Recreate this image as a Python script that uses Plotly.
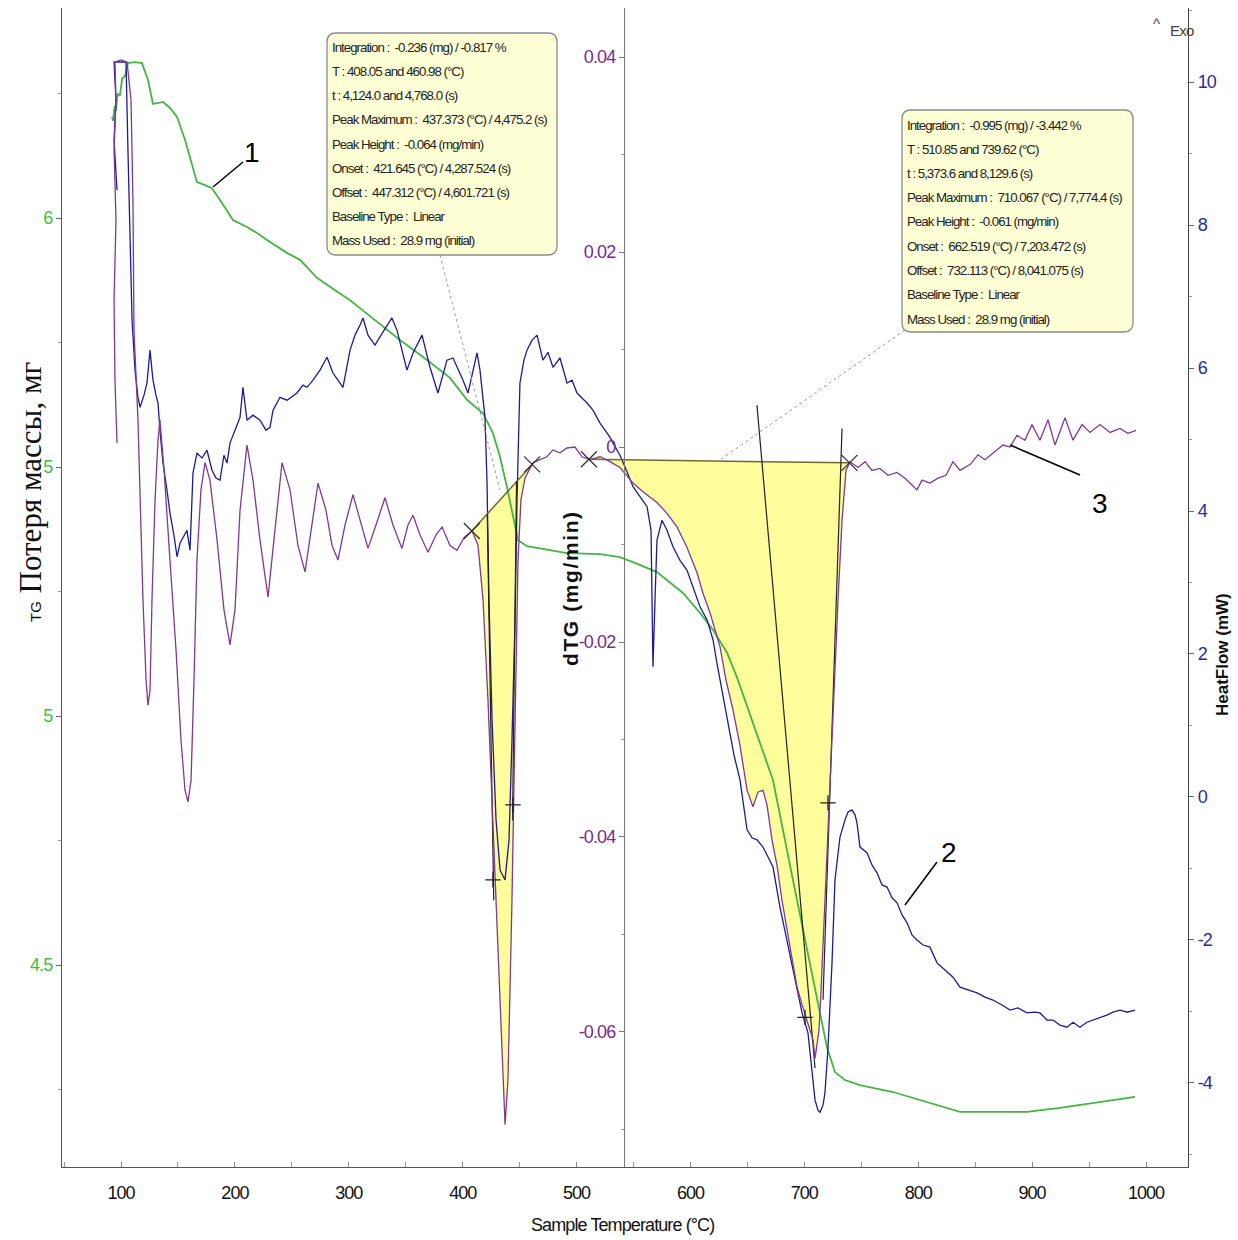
import numpy as np
import plotly.graph_objects as go

# ---------------- data ----------------
# TG curve (green) : sample temperature (°C) / mass (mg)
tg_temp = [92.1, 93.0, 94.5, 95.5, 97.0, 99.0, 101.0, 103.5, 106.1, 112.3, 118.4, 123.7, 128.1,
           132.5, 136.9, 143.0, 149.2, 156.2, 162.3, 166.7, 173.8, 179.9, 188.7, 198.3, 210.6,
           219.4, 228.2, 245.7, 257.2, 272.1, 287.9, 301.1, 318.6, 331.8, 345.0, 368.7, 388.9,
           403.8, 417.8, 426.6, 432.8, 438.9, 444.2, 448.6, 456.5, 491.6, 520.6, 538.1, 549.5,
           570.6, 593.4, 608.4, 619.8, 632.1, 640.8, 656.7, 672.5, 690.0, 702.3, 713.7, 719.9,
           726.9, 735.7, 748.8, 777.8, 810.3, 836.7, 871.8, 895.5, 924.4, 959.6, 990.3]
tg_mass = [6.203, 6.195, 6.225, 6.215, 6.250, 6.245, 6.280, 6.285, 6.311, 6.313, 6.311, 6.277, 6.229,
           6.231, 6.233, 6.221, 6.203, 6.157, 6.106, 6.072, 6.066, 6.060, 6.030, 5.996, 5.982,
           5.970, 5.956, 5.930, 5.916, 5.880, 5.855, 5.835, 5.803, 5.779, 5.755, 5.715, 5.679,
           5.635, 5.608, 5.568, 5.520, 5.460, 5.400, 5.353, 5.341, 5.327, 5.325, 5.319, 5.309,
           5.289, 5.247, 5.207, 5.173, 5.127, 5.078, 4.976, 4.871, 4.671, 4.536, 4.404, 4.335,
           4.285, 4.269, 4.259, 4.245, 4.223, 4.205, 4.205, 4.205, 4.213, 4.225, 4.235]

# dTG curve (purple) : temperature (°C) / rate (mg/min)
dtg_temp = [96.5, 94.7, 93.9, 95.6, 93.9, 95.6, 94.7, 100.0, 105.3, 108.8, 110.5, 111.4, 114.9,
            116.7, 119.3, 122.0, 123.7, 125.5, 127.2, 129.9, 132.5, 134.2, 137.8, 143.0, 148.3,
            152.7, 156.2, 158.8, 161.5, 164.1, 166.7, 170.2, 173.8, 178.1, 184.3, 190.4, 195.7,
            200.1, 204.5, 210.6, 215.9, 222.0, 229.1, 234.3, 241.4, 248.4, 255.4, 261.6, 266.8,
            273.0, 280.0, 285.3, 290.5, 296.7, 303.7, 309.9, 316.9, 323.9, 331.8, 338.8, 346.7,
            352.0, 356.4, 362.5, 369.6, 376.6, 381.9, 388.9, 395.0, 401.2, 408.2, 413.5, 417.9,
            422.2, 425.8, 429.3, 432.8, 435.4, 437.2, 439.8, 441.6, 443.3, 445.1, 446.8, 448.6,
            451.2, 454.7, 458.2, 461.8, 467.9, 474.0, 479.3, 485.5, 491.6, 498.6, 504.8, 511.8,
            520.6, 529.4, 538.1, 549.6, 558.3, 570.6, 579.4, 588.2, 597.0, 605.8, 611.0, 617.2,
            626.0, 631.2, 637.4, 643.5, 649.7, 654.9, 659.3, 663.7, 667.2, 671.6, 676.0, 680.4,
            684.8, 689.2, 693.6, 698.0, 702.4, 705.0, 707.6, 709.4, 711.2, 712.9, 714.7, 717.3,
            719.9, 722.5, 726.0, 729.6, 733.1, 736.6, 740.1, 747.2, 753.3, 759.4, 766.4, 773.5,
            781.4, 788.4, 794.5, 798.9, 803.3, 810.3, 817.4, 824.4, 830.5, 836.7, 845.5, 852.5,
            858.6, 867.4, 874.4, 880.6, 886.7, 893.7, 899.9, 906.9, 914.0, 920.1, 928.9, 935.9,
            943.8, 950.8, 959.6, 968.4, 977.2, 984.2, 991.2]
dtg_rate = [0.0004, 0.0069, 0.0151, 0.0233, 0.0305, 0.0356, 0.0395, 0.0397, 0.0395, 0.0356, 0.0253, 0.0120, 0.0028,
            -0.0054, -0.0157, -0.0239, -0.0265, -0.0249, -0.0157, -0.0054, 0.0007, 0.0028, -0.0024, -0.0116, -0.0208,
            -0.0301, -0.0352, -0.0364, -0.0342, -0.0239, -0.0116, -0.0044, -0.0016, -0.0034, -0.0095, -0.0167, -0.0203,
            -0.0167, -0.0065, 0.0002, -0.0034, -0.0095, -0.0154, -0.0095, -0.0016, -0.0044, -0.0101, -0.0128, -0.0085,
            -0.0037, -0.0065, -0.0101, -0.0116, -0.0080, -0.0049, -0.0075, -0.0104, -0.0080, -0.0052, -0.0080, -0.0104,
            -0.0080, -0.0070, -0.0090, -0.0108, -0.0090, -0.0082, -0.0101, -0.0106, -0.0093, -0.0086, -0.0101, -0.0157,
            -0.0259, -0.0362, -0.0465, -0.0567, -0.0649, -0.0695, -0.0649, -0.0567, -0.0465, -0.0342, -0.0208, -0.0116,
            -0.0054, -0.0032, -0.0024, -0.0016, -0.0013, -0.0010, -0.0003, -0.0006, -0.0001, 0.0000, -0.0010, -0.0013,
            -0.0010, -0.0015, -0.0021, -0.0037, -0.0046, -0.0057, -0.0068, -0.0082, -0.0103, -0.0129, -0.0150, -0.0170,
            -0.0205, -0.0239, -0.0270, -0.0306, -0.0352, -0.0369, -0.0354, -0.0352, -0.0367, -0.0403, -0.0429, -0.0465,
            -0.0495, -0.0526, -0.0554, -0.0572, -0.0588, -0.0598, -0.0608, -0.0627, -0.0613, -0.0598, -0.0557, -0.0485,
            -0.0424, -0.0352, -0.0259, -0.0157, -0.0075, -0.0024, -0.0015, -0.0021, -0.0015, -0.0024, -0.0022, -0.0029,
            -0.0026, -0.0032, -0.0039, -0.0044, -0.0034, -0.0037, -0.0032, -0.0029, -0.0015, -0.0024, -0.0018, -0.0008,
            -0.0013, -0.0005, 0.0002, 0.0000, 0.0012, 0.0007, 0.0023, 0.0007, 0.0028, 0.0002, 0.0030, 0.0007,
            0.0023, 0.0015, 0.0023, 0.0015, 0.0019, 0.0014, 0.0017]

# HeatFlow curve (navy) : temperature (°C) / heat flow (mW)
hf_temp = [96.5, 93.9, 95.6, 93.9, 99.1, 104.4, 106.1, 107.9, 109.7, 112.3, 114.9, 116.7, 120.2,
           122.8, 125.5, 127.2, 128.1, 130.7, 132.5, 134.2, 136.9, 140.4, 143.0, 146.5, 149.2,
           151.8, 155.3, 157.9, 160.6, 163.2, 166.7, 171.1, 175.5, 179.9, 183.4, 186.9, 190.4,
           193.1, 195.7, 200.1, 204.5, 207.1, 210.6, 215.9, 222.0, 227.3, 230.8, 233.5, 239.6,
           245.8, 254.5, 259.8, 263.3, 268.6, 274.7, 280.9, 286.1, 290.5, 294.9, 301.1, 305.5,
           309.9, 312.5, 316.9, 323.0, 328.3, 333.6, 337.9, 342.3, 345.0, 351.1, 356.4, 364.3,
           371.3, 378.3, 386.2, 391.5, 400.3, 404.7, 412.6, 415.2, 419.6, 421.4, 423.1, 425.8,
           429.3, 432.8, 437.2, 440.7, 443.3, 446.0, 447.7, 450.3, 453.8, 456.5, 460.9, 465.3,
           470.5, 474.9, 479.3, 485.5, 491.6, 496.0, 500.4, 509.2, 514.4, 520.6, 525.0, 529.4,
           533.8, 538.1, 544.3, 549.6, 555.7, 561.9, 565.4, 567.1, 568.9, 570.6, 575.0, 579.4,
           584.7, 590.8, 597.0, 602.2, 608.4, 614.5, 619.8, 623.3, 627.7, 633.0, 638.2, 643.5,
           649.7, 654.1, 658.5, 663.7, 668.1, 672.5, 678.6, 684.8, 689.2, 693.6, 698.0, 703.2,
           706.7, 709.4, 712.0, 713.8, 716.4, 718.1, 720.8, 724.3, 726.9, 731.3, 735.7, 738.4,
           741.8, 744.5, 746.2, 748.9, 755.0, 759.4, 763.8, 768.2, 772.6, 777.0, 781.4, 785.8,
           790.2, 794.5, 798.9, 804.2, 810.3, 816.5, 823.5, 830.5, 836.7, 843.7, 851.6, 858.6,
           865.6, 873.6, 880.6, 887.6, 895.5, 902.5, 906.9, 913.1, 918.3, 924.5, 930.6, 935.9,
           942.0, 948.2, 953.5, 959.6, 965.7, 971.0, 977.2, 983.4, 990.3]
hf_flow = [8.49, 9.19, 9.75, 10.28, 10.28, 10.28, 9.05, 7.65, 6.67, 5.97, 5.59, 5.45, 5.62,
           5.79, 6.25, 5.97, 5.83, 5.62, 5.51, 5.13, 4.67, 4.29, 3.97, 3.66, 3.36,
           3.55, 3.66, 3.73, 3.45, 4.53, 4.81, 4.74, 4.85, 4.57, 4.46, 4.43, 4.78,
           4.67, 4.95, 5.13, 5.31, 5.73, 5.27, 5.34, 5.27, 5.13, 5.17, 5.41, 5.59,
           5.55, 5.65, 5.76, 5.73, 5.83, 5.97, 6.15, 5.93, 5.83, 5.73, 6.25, 6.46,
           6.60, 6.70, 6.46, 6.32, 6.46, 6.60, 6.70, 6.53, 6.35, 5.97, 6.21, 6.46,
           6.01, 5.65, 6.11, 6.14, 5.83, 5.65, 6.21, 5.97, 5.31, 4.39, 2.76, 1.08,
           -0.32, -1.02, -1.16, -0.60, 0.80, 2.48, 4.15, 5.79, 6.11, 6.25, 6.39, 6.46,
           6.11, 6.22, 6.01, 6.14, 5.79, 5.83, 5.65, 5.51, 5.41, 5.23, 5.13, 5.03,
           4.90, 4.78, 4.55, 4.34, 4.20, 4.06, 3.73, 1.82, 2.76, 3.59, 3.87, 3.73,
           3.50, 3.31, 3.17, 2.94, 2.66, 2.48, 2.20, 1.87, 1.50, 1.08, 0.59, 0.24,
           -0.46, -0.57, -0.60, -0.70, -0.85, -0.98, -1.54, -2.00, -2.35, -2.66, -3.02, -3.30,
           -3.82, -4.24, -4.38, -4.41, -4.31, -4.14, -3.50, -2.32, -1.16, -0.56, -0.32, -0.21,
           -0.18, -0.25, -0.36, -0.70, -0.78, -0.95, -1.06, -1.23, -1.26, -1.41, -1.48, -1.65,
           -1.76, -1.93, -2.00, -2.07, -2.10, -2.32, -2.42, -2.52, -2.66, -2.70, -2.74, -2.80,
           -2.84, -2.91, -2.98, -2.95, -3.02, -3.01, -3.02, -3.12, -3.12, -3.19, -3.22, -3.15,
           -3.22, -3.15, -3.12, -3.08, -3.05, -3.01, -2.98, -3.01, -2.98]

# integration limits (°C) from the analysis boxes
peak_limits = [(408.05, 460.98), (510.85, 739.62)]
# inflection points marked with "+"
inflect_temp = [426.6, 444.2, 700.6, 720.8]
inflect_rate = [-0.0444, -0.0367, -0.0585, -0.0365]
# tangent lines (start/end in °C and mg/min)
tangent_temp = [(421.6, 427.3), (447.3, 443.8), (658.4, 709.4), (733.1, 716.4)]
tangent_rate = [(-0.0069, -0.0465), (-0.0035, -0.0383), (0.0043, -0.0637), (0.0019, -0.0567)]

box1_lines = ["Integration :  -0.236 (mg) / -0.817 %",
              "T : 408.05 and 460.98 (°C)",
              "t : 4,124.0 and 4,768.0 (s)",
              "Peak Maximum :  437.373 (°C) / 4,475.2 (s)",
              "Peak Height :  -0.064 (mg/min)",
              "Onset :  421.645 (°C) / 4,287.524 (s)",
              "Offset :  447.312 (°C) / 4,601.721 (s)",
              "Baseline Type :  Linear",
              "Mass Used :  28.9 mg (initial)"]
box2_lines = ["Integration :  -0.995 (mg) / -3.442 %",
              "T : 510.85 and 739.62 (°C)",
              "t : 5,373.6 and 8,129.6 (s)",
              "Peak Maximum :  710.067 (°C) / 7,774.4 (s)",
              "Peak Height :  -0.061 (mg/min)",
              "Onset :  662.519 (°C) / 7,203.472 (s)",
              "Offset :  732.113 (°C) / 8,041.075 (s)",
              "Baseline Type :  Linear",
              "Mass Used :  28.9 mg (initial)"]

x_ticks = [100, 200, 300, 400, 500, 600, 700, 800, 900, 1000]
x_ticktext = ["100", "200", "300", "400", "500", "600", "700", "800", "900", "1000"]
tg_ticks = [4.5, 5.0, 5.5, 6.0]
tg_ticktext = ["4.5", "5", "5", "6"]
dtg_ticks = [-0.06, -0.04, -0.02, 0.0, 0.02, 0.04]
dtg_ticktext = ["-0.06", "-0.04", "-0.02", "0", "0.02", "0.04"]
hf_ticks = [-4, -2, 0, 2, 4, 6, 8, 10]
hf_ticktext = ["-4", "-2", "0", "2", "4", "6", "8", "10"]

# ---------------- styling ----------------
GREEN = "#46b346"
PURPLE = "#7e3a92"
NAVY = "#1c1c8e"
YELLOW = "#fdfd9c"
SANS = "Liberation Sans, Arial, sans-serif"


def narrow(txt, ls=-0.8):
    return f"<span style='letter-spacing:{ls}px'>{txt}</span>"


W, H = 1238, 1240
L, R, T, B = 62, 1188, 8, 1167


def px(x):
    return (x - L) / (R - L)


def py(y):
    return (B - y) / (B - T)


fig = go.Figure()

# yellow integration areas (base dTG axis, drawn first)
mono_T = np.array([t for t in dtg_temp if t >= 200])
mono_D = np.array([d for t, d in zip(dtg_temp, dtg_rate) if t >= 200])
base_pts = []
for t1, t2 in peak_limits:
    d1 = float(np.interp(t1, mono_T, mono_D))
    d2 = float(np.interp(t2, mono_T, mono_D))
    sel = (mono_T > t1) & (mono_T < t2)
    xs = [t1] + list(mono_T[sel]) + [t2]
    ys = [d1] + list(mono_D[sel]) + [d2]
    fig.add_trace(go.Scatter(x=xs, y=ys, fill="toself", fillcolor=YELLOW, mode="lines",
                             line=dict(width=0), yaxis="y", hoverinfo="skip", showlegend=False))
    base_pts.append((t1, t2, d1, d2))

# TG (green)
fig.add_trace(go.Scatter(x=tg_temp, y=tg_mass, mode="lines", line=dict(color=GREEN, width=1.8),
                         yaxis="y2", showlegend=False))
# HeatFlow (navy)
fig.add_trace(go.Scatter(x=hf_temp, y=hf_flow, mode="lines", line=dict(color=NAVY, width=1.3),
                         yaxis="y3", showlegend=False))

# baselines
for t1, t2, d1, d2 in base_pts:
    fig.add_trace(go.Scatter(x=[t1, t2], y=[d1, d2], mode="lines", line=dict(color="#6e6a2c", width=1.5),
                             yaxis="y4", showlegend=False))
# tangent lines
for (ta, tb), (da, db) in zip(tangent_temp, tangent_rate):
    fig.add_trace(go.Scatter(x=[ta, tb], y=[da, db], mode="lines", line=dict(color="#222222", width=1.2),
                             yaxis="y4", showlegend=False))
# dTG (purple)
fig.add_trace(go.Scatter(x=dtg_temp, y=dtg_rate, mode="lines", line=dict(color=PURPLE, width=1.3),
                         yaxis="y4", showlegend=False))
# X markers at the baseline ends
fig.add_trace(go.Scatter(x=[p for b in base_pts for p in b[:2]], y=[p for b in base_pts for p in b[2:]],
                         mode="markers", marker=dict(symbol="x-thin-open", size=16, color="#333333",
                                                     line=dict(color="#333333", width=1.3)),
                         yaxis="y4", showlegend=False))
# + markers at inflection points
fig.add_trace(go.Scatter(x=inflect_temp, y=inflect_rate, mode="markers",
                         marker=dict(symbol="cross-thin-open", size=11, color="#222222",
                                     line=dict(color="#222222", width=1.3)),
                         yaxis="y4", showlegend=False))

dtg_range = [-0.07385, 0.04503]

fig.update_layout(
    width=W, height=H,
    margin=dict(l=L, r=W - R, t=T, b=H - B),
    paper_bgcolor="white", plot_bgcolor="white",
    xaxis=dict(domain=[0, 1], range=[100 + (L - 121) * 0.87805, 100 + (R - 121) * 0.87805],
               showgrid=False, zeroline=False, showline=True, linecolor="#555555", linewidth=1.2,
               tickmode="array", tickvals=x_ticks, ticktext=[narrow(t, -1.0) for t in x_ticktext],
               ticks="inside", ticklen=5, tickcolor="#888888",
               ticklabelstandoff=9, tickfont=dict(family=SANS, size=18, color="#111111"),
               minor=dict(tickmode="linear", tick0=50, dtick=50, ticks="inside", ticklen=5, tickcolor="#999999"),
               anchor="y2"),
    yaxis=dict(range=dtg_range, anchor="free", position=px(624), side="left",
               showgrid=False, zeroline=False, showline=True, linecolor="#777777", linewidth=1.2,
               tickmode="array", tickvals=dtg_ticks, ticktext=[narrow(t, -0.9) for t in dtg_ticktext],
               ticks="outside", ticklen=5,
               tickcolor="#777777", tickfont=dict(family=SANS, size=18, color="#7a2a8c"),
               minor=dict(tickmode="linear", tick0=0.01, dtick=0.02, ticks="outside", ticklen=3,
                          tickcolor="#999999")),
    yaxis2=dict(range=[4.0944, 6.4217], overlaying="y", anchor="x", side="left",
                showgrid=False, zeroline=False, showline=True, linecolor="#555555", linewidth=1.2,
                tickmode="array", tickvals=tg_ticks, ticktext=[narrow(t, -0.9) for t in tg_ticktext],
                ticks="outside", ticklen=5,
                tickcolor="#666666", tickfont=dict(family=SANS, size=18, color="#3fbf3f"),
                minor=dict(tickmode="linear", tick0=4.25, dtick=0.5, ticks="outside", ticklen=3,
                           tickcolor="#999999")),
    yaxis3=dict(range=[-5.175, 11.035], overlaying="y", anchor="x", side="right",
                showgrid=False, zeroline=False, showline=True, linecolor="#444444", linewidth=1.2,
                tickmode="array", tickvals=hf_ticks, ticktext=[narrow(t, -0.9) for t in hf_ticktext],
                ticks="outside", ticklen=5,
                tickcolor="#666666", tickfont=dict(family=SANS, size=18, color="#2a2a9c"),
                minor=dict(tickmode="linear", tick0=-5, dtick=2, ticks="outside", ticklen=3,
                           tickcolor="#999999")),
    yaxis4=dict(range=dtg_range, overlaying="y", anchor="x", visible=False),
    showlegend=False,
)

shapes = []
annotations = []


def rrect(x0, y0, x1, y1, r=9):
    return (f"M {px(x0 + r)},{py(y0)} L {px(x1 - r)},{py(y0)} Q {px(x1)},{py(y0)} {px(x1)},{py(y0 + r)} "
            f"L {px(x1)},{py(y1 - r)} Q {px(x1)},{py(y1)} {px(x1 - r)},{py(y1)} "
            f"L {px(x0 + r)},{py(y1)} Q {px(x0)},{py(y1)} {px(x0)},{py(y1 - r)} "
            f"L {px(x0)},{py(y0 + r)} Q {px(x0)},{py(y0)} {px(x0 + r)},{py(y0)} Z")


def seg(x0, y0, x1, y1, color="black", width=1.5, dash="solid"):
    shapes.append(dict(type="line", xref="paper", yref="paper", x0=px(x0), y0=py(y0), x1=px(x1), y1=py(y1),
                       line=dict(color=color, width=width, dash=dash), layer="above"))


# dotted leaders from the analysis boxes
seg(440, 255, 500, 490, color="#999999", width=1, dash="dot")
seg(905, 330, 720, 460, color="#999999", width=1, dash="dot")

# analysis boxes
for (bx0, by0, bx1, by1), lines, y_first in [((327, 33, 557, 255), box1_lines, 47),
                                              ((902, 110, 1133, 332), box2_lines, 125)]:
    shapes.append(dict(type="path", xref="paper", yref="paper", path=rrect(bx0, by0, bx1, by1),
                       fillcolor="#ffffd6", line=dict(color="#8a8a8a", width=1.3), layer="above"))
    for i, txt in enumerate(lines):
        annotations.append(dict(x=px(bx0 + 3), y=py(y_first + i * 24.25), xref="paper", yref="paper",
                                text=narrow(txt, -1.0), showarrow=False, xanchor="left", yanchor="middle",
                                font=dict(family=SANS, size=13.3, color="#222222")))

# curve numbering
seg(213, 187, 243, 162)
seg(905, 905, 937, 862)
seg(1010, 445, 1080, 475)
for txt, x, y in [("1", 252, 152), ("2", 949, 852), ("3", 1100, 503)]:
    annotations.append(dict(x=px(x), y=py(y), xref="paper", yref="paper", text=txt, showarrow=False,
                            xanchor="center", yanchor="middle", font=dict(family=SANS, size=28, color="black")))

# axis titles
annotations.append(dict(x=px(622), y=py(1225), xref="paper", yref="paper",
                        text=narrow("Sample Temperature (°C)", -0.9),
                        showarrow=False, xanchor="center", yanchor="middle",
                        font=dict(family=SANS, size=18, color="#111111")))
annotations.append(dict(x=px(570), y=py(588), xref="paper", yref="paper",
                        text="<b>" + narrow("dTG (mg/min)", 1.6) + "</b>",
                        showarrow=False, textangle=-90, xanchor="center", yanchor="middle",
                        font=dict(family=SANS, size=21, color="#111111")))
annotations.append(dict(x=px(1222), y=py(655), xref="paper", yref="paper", text="<b>HeatFlow (mW)</b>",
                        showarrow=False, textangle=-90, xanchor="center", yanchor="middle",
                        font=dict(family=SANS, size=17, color="#111111")))
annotations.append(dict(x=px(30), y=py(492), xref="paper", yref="paper",
                        text="<span style='font-family:Liberation Sans, Arial; font-size:15px'>TG</span> Потеря массы, мг",
                        showarrow=False, textangle=-90, xanchor="center", yanchor="middle",
                        font=dict(family="Liberation Serif, Times New Roman, serif", size=31, color="#111111")))
annotations.append(dict(x=px(1156), y=py(24), xref="paper", yref="paper", text="^", showarrow=False,
                        xanchor="center", yanchor="middle", font=dict(family=SANS, size=15, color="#444444")))
annotations.append(dict(x=px(1182), y=py(30), xref="paper", yref="paper", text=narrow("Exo", -0.8),
                        showarrow=False, xanchor="center", yanchor="middle",
                        font=dict(family=SANS, size=15, color="#444444")))

fig.update_layout(shapes=shapes, annotations=annotations)
fig.write_html("out.html", config={"displayModeBar": False},
               post_script="document.body.style.margin='0';document.documentElement.style.overflow='hidden';")
